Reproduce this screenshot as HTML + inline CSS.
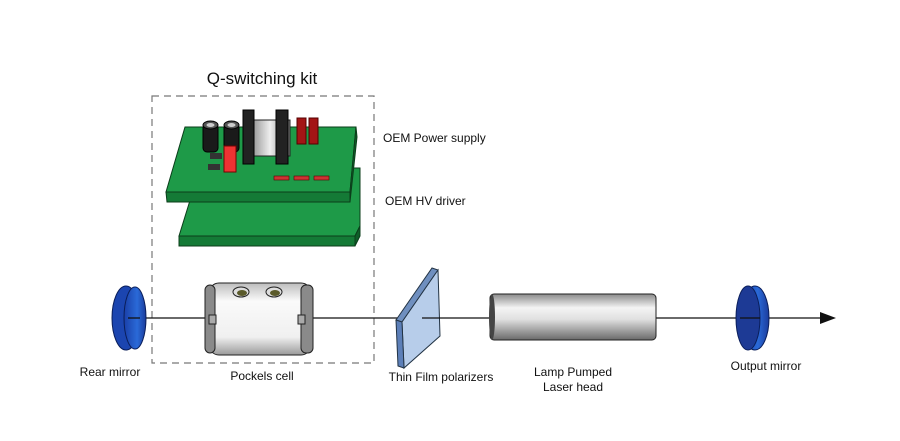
<!DOCTYPE html>
<html><head><meta charset="utf-8"><style>
html,body{margin:0;padding:0;background:#fff;}
svg{display:block;}
text{font-family:"Liberation Sans",sans-serif;fill:#111;}
</style></head><body>
<svg width="900" height="441" viewBox="0 0 900 441" xmlns="http://www.w3.org/2000/svg">
<defs>
<linearGradient id="cyl" x1="0" y1="0" x2="0" y2="1">
<stop offset="0" stop-color="#8a8a8a"/><stop offset="0.3" stop-color="#f4f4f4"/><stop offset="0.55" stop-color="#e0e0e0"/><stop offset="1" stop-color="#6a6a6a"/></linearGradient>
<linearGradient id="pc" x1="0" y1="0" x2="0" y2="1">
<stop offset="0" stop-color="#bdbdbd"/><stop offset="0.25" stop-color="#fafafa"/><stop offset="0.75" stop-color="#f0f0f0"/><stop offset="1" stop-color="#9a9a9a"/></linearGradient>
<linearGradient id="blue" x1="0" y1="0" x2="1" y2="0">
<stop offset="0" stop-color="#1a3fa8"/><stop offset="0.6" stop-color="#2a6ad8"/><stop offset="1" stop-color="#1b3c9c"/></linearGradient>
<linearGradient id="coil" x1="1" y1="0" x2="0" y2="0">
<stop offset="0" stop-color="#7a7a7a"/><stop offset="0.5" stop-color="#eee"/><stop offset="1" stop-color="#8a8a8a"/></linearGradient>
</defs>

<text x="262" y="84" font-size="17" text-anchor="middle">Q-switching kit</text>
<rect x="152" y="96" width="222" height="267" fill="none" stroke="#777" stroke-width="1.2" stroke-dasharray="7,5"/>

<!-- lower board -->
<polygon points="200,168 360,168 360,226 355,236 179,236" fill="#1e9a48" stroke="#0b3d1a" stroke-width="1"/>
<polygon points="179,236 355,236 355,246 179,246" fill="#147a36" stroke="#0b3d1a" stroke-width="1"/>
<polygon points="355,236 360,226 360,236 355,246" fill="#0f5e29" stroke="#0b3d1a" stroke-width="1"/>
<!-- upper board -->
<polygon points="185,127 356,127 350,192 166,192" fill="#1e9a48" stroke="#0b3d1a" stroke-width="1"/>
<polygon points="166,192 350,192 350,202 167,202" fill="#147a36" stroke="#0b3d1a" stroke-width="1"/>
<polygon points="350,192 356,127 357,137 350,202" fill="#0f5e29" stroke="#0b3d1a" stroke-width="1"/>
<!-- caps -->
<rect x="203" y="124" width="15" height="28" rx="4" fill="#1a1a1a" stroke="#000"/>
<ellipse cx="210.5" cy="125" rx="7.5" ry="4" fill="#555" stroke="#000"/><ellipse cx="210.5" cy="125" rx="4" ry="2" fill="#ccc"/>
<rect x="224" y="124" width="15" height="28" rx="4" fill="#1a1a1a" stroke="#000"/>
<ellipse cx="231.5" cy="125" rx="7.5" ry="4" fill="#555" stroke="#000"/><ellipse cx="231.5" cy="125" rx="4" ry="2" fill="#ccc"/>
<!-- transformer -->
<rect x="250" y="120" width="40" height="36" fill="url(#coil)" stroke="#222"/>
<polygon points="243,110 254,110 254,164 243,164" fill="#222" stroke="#000"/>
<polygon points="276,110 288,110 288,164 276,164" fill="#222" stroke="#000"/>
<!-- red chips -->
<rect x="297" y="118" width="9" height="26" fill="#a31515" stroke="#500"/>
<rect x="309" y="118" width="9" height="26" fill="#a31515" stroke="#500"/>
<rect x="224" y="146" width="12" height="26" fill="#e33" stroke="#700"/>
<rect x="210" y="153" width="12" height="6" fill="#333"/>
<rect x="208" y="164" width="12" height="6" fill="#333"/>
<rect x="274" y="176" width="15" height="4" fill="#c33" stroke="#500" stroke-width=".6"/>
<rect x="294" y="176" width="15" height="4" fill="#c33" stroke="#500" stroke-width=".6"/>
<rect x="314" y="176" width="15" height="4" fill="#c33" stroke="#500" stroke-width=".6"/>

<text x="383" y="142" font-size="12">OEM Power supply</text>
<text x="385" y="205" font-size="12">OEM HV driver</text>

<!-- beam -->
<line x1="128" y1="318" x2="822" y2="318" stroke="#111" stroke-width="1.3"/>
<polygon points="820,312 836,318 820,324" fill="#111"/>

<!-- rear mirror -->
<ellipse cx="126" cy="318" rx="14" ry="32" fill="#1b45b0" stroke="#0a1e5a"/>
<ellipse cx="135" cy="318" rx="11" ry="31" fill="url(#blue)" stroke="#0a1e5a"/>
<line x1="128" y1="318" x2="140" y2="318" stroke="#111" stroke-width="1.3"/>

<!-- pockels cell -->
<rect x="209" y="283" width="102" height="72" rx="10" fill="url(#pc)" stroke="#222"/>
<rect x="205" y="285" width="10" height="68" rx="5" fill="#8a8a8a" stroke="#222"/>
<rect x="301" y="285" width="12" height="68" rx="5" fill="#8a8a8a" stroke="#222"/>
<rect x="209" y="315" width="7" height="9" fill="#aaa" stroke="#222"/>
<rect x="298" y="315" width="7" height="9" fill="#aaa" stroke="#222"/>
<ellipse cx="241" cy="292" rx="8" ry="5" fill="#ddd" stroke="#222"/><ellipse cx="242" cy="293" rx="5" ry="3" fill="#5a5a2a"/>
<ellipse cx="274" cy="292" rx="8" ry="5" fill="#ddd" stroke="#222"/><ellipse cx="275" cy="293" rx="5" ry="3" fill="#5a5a2a"/>

<!-- TFP -->
<polygon points="396,320 432,268 438,270 402,322" fill="#6f8fbf" stroke="#234"/>
<polygon points="402,322 438,270 440,336 404,368" fill="#b7cdea" stroke="#234"/>
<polygon points="396,320 402,322 404,368 398,366" fill="#5c7fb8" stroke="#234"/>
<line x1="422" y1="318" x2="440" y2="318" stroke="#111" stroke-width="1.3"/>

<!-- laser head -->
<rect x="490" y="294" width="166" height="46" rx="4" fill="url(#cyl)" stroke="#222"/>
<ellipse cx="492" cy="317" rx="3" ry="23" fill="#444"/>

<!-- output mirror -->
<ellipse cx="755" cy="318" rx="14" ry="32" fill="url(#blue)" stroke="#0a1e5a"/>
<ellipse cx="748" cy="318" rx="12" ry="32" fill="#1d3a95" stroke="#0a1e5a"/>
<line x1="740" y1="318" x2="760" y2="318" stroke="#111" stroke-width="1.3"/>

<text x="110" y="376" font-size="12" text-anchor="middle">Rear mirror</text>
<text x="262" y="380" font-size="12" text-anchor="middle">Pockels cell</text>
<text x="441" y="381" font-size="12" text-anchor="middle">Thin Film polarizers</text>
<text x="573" y="376" font-size="12" text-anchor="middle">Lamp Pumped</text>
<text x="573" y="391" font-size="12" text-anchor="middle">Laser head</text>
<text x="766" y="370" font-size="12" text-anchor="middle">Output mirror</text>
</svg>
</body></html>
